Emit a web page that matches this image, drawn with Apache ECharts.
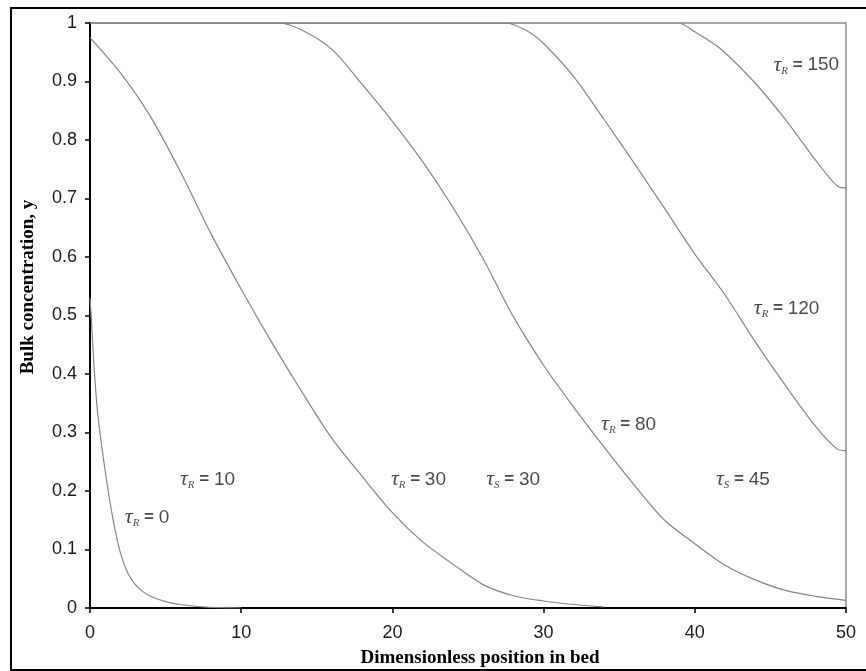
<!DOCTYPE html>
<html>
<head>
<meta charset="utf-8">
<script src="https://cdn.jsdelivr.net/npm/echarts@6/dist/echarts.min.js"></script>
<style>
  html, body { margin: 0; padding: 0; background: #fff; }
  #breakthrough { width: 866px; height: 671px; }
</style>
</head>
<body>
<div id="breakthrough"></div>
<script>
// curve values (position in bed, bulk concentration)
var pos0 = [0, 0.1, 0.25, 0.5, 1, 1.5, 2, 2.5, 3, 3.5, 4, 5, 6, 7, 8, 10];
var conc0 = [0.53, 0.49, 0.42, 0.335, 0.235, 0.155, 0.095, 0.06, 0.04, 0.028, 0.02, 0.011, 0.006, 0.003, 0.001, 0];

var pos1 = [0, 2, 4, 6, 8, 10, 12, 14, 16, 18, 20, 22, 24, 26, 28, 30, 32, 34];
var conc1 = [0.975, 0.915, 0.84, 0.745, 0.64, 0.545, 0.455, 0.37, 0.29, 0.225, 0.163, 0.113, 0.075, 0.04, 0.021, 0.012, 0.006, 0.002];

var pos2 = [0, 12.5, 14, 16, 18, 20, 22, 24, 26, 28, 30, 32, 34, 36, 38, 40, 42, 44, 46, 48, 50];
var conc2 = [1, 1, 0.988, 0.955, 0.895, 0.832, 0.763, 0.685, 0.597, 0.498, 0.415, 0.343, 0.275, 0.21, 0.15, 0.11, 0.073, 0.048, 0.03, 0.02, 0.013];

var pos3 = [0, 27.5, 29, 30, 32, 34, 36, 38, 40, 42, 44, 46, 48, 49.4, 50];
var conc3 = [1, 1, 0.985, 0.965, 0.908, 0.835, 0.76, 0.683, 0.605, 0.535, 0.455, 0.38, 0.31, 0.272, 0.269];

var pos4 = [0, 38.9, 40, 41.7, 44, 46, 47, 48, 49.5, 50];
var conc4 = [1, 1, 0.985, 0.956, 0.897, 0.835, 0.8, 0.765, 0.72, 0.718];

// curve annotations
var labelX = [2.3, 5.95, 19.9, 26.2, 33.8, 41.4, 43.9, 45.2];
var labelY = [0.155, 0.22, 0.22, 0.22, 0.314, 0.22, 0.512, 0.928];
var labelSub = ['R', 'R', 'R', 'S', 'R', 'S', 'R', 'R'];
var labelVal = ['0', '10', '30', '30', '80', '45', '120', '150'];

var xTicks = [0, 10, 20, 30, 40, 50];

function pairs(xs, ys) {
  return xs.map(function(x, i) { return [x, ys[i]]; });
}

var chart = echarts.init(document.getElementById('breakthrough'));

var curves = [pairs(pos0, conc0), pairs(pos1, conc1), pairs(pos2, conc2), pairs(pos3, conc3), pairs(pos4, conc4)];
var series = curves.map(function(d) {
  return {
    type: 'line',
    data: d,
    smooth: 0.3,
    symbol: 'none',
    silent: true,
    lineStyle: { color: '#858585', width: 1.2 },
    z: 3
  };
});

series.push({
  type: 'scatter',
  symbolSize: 0,
  silent: true,
  data: labelX.map(function(x, i) { return [x, labelY[i], labelSub[i], labelVal[i]]; }),
  label: {
    show: true,
    position: 'right',
    distance: 0,
    formatter: function(p) {
      return '{t|τ}{s|' + p.value[2] + '}{e| = }{n|' + p.value[3] + '}';
    },
    rich: {
      t: { fontFamily: 'Liberation Serif', fontStyle: 'italic', fontSize: 22, color: '#1a1a1a' },
      s: { fontFamily: 'Liberation Serif', fontStyle: 'italic', fontSize: 11, color: '#1a1a1a', verticalAlign: 'bottom' },
      e: { fontFamily: 'Liberation Sans', fontWeight: 'bold', fontSize: 17, color: '#1a1a1a' },
      n: { fontFamily: 'Liberation Sans Narrow, Liberation Sans, sans-serif', fontSize: 19, color: '#1a1a1a' }
    }
  }
});

var option = {
  animation: false,
  backgroundColor: '#fff',
  grid: {
    left: 90,
    right: 20,
    top: 23,
    bottom: 63,
    show: true,
    borderColor: '#8c8c8c',
    borderWidth: 1.5
  },
  xAxis: {
    type: 'value',
    min: xTicks[0],
    max: xTicks[xTicks.length - 1],
    interval: 10,
    splitLine: { show: false },
    axisLine: { show: true, onZero: false, lineStyle: { color: '#000', width: 2 } },
    axisTick: { show: true, inside: false, length: 5, lineStyle: { color: '#000', width: 1.5 } },
    axisLabel: { margin: 16, color: '#1a1a1a', fontFamily: 'Liberation Sans', fontSize: 18 }
  },
  yAxis: {
    type: 'value',
    min: 0,
    max: 1,
    interval: 0.1,
    splitLine: { show: false },
    axisLine: { show: true, onZero: false, lineStyle: { color: '#000', width: 2 } },
    axisTick: { show: true, inside: false, length: 5, lineStyle: { color: '#000', width: 1.5 } },
    axisLabel: { margin: 13, color: '#1a1a1a', fontFamily: 'Liberation Sans', fontSize: 18 }
  },
  graphic: [{
    type: 'rect',
    silent: true,
    shape: { x: 11, y: 8, width: 900, height: 662 },
    style: { fill: 'none', stroke: '#000', lineWidth: 2 }
  }, {
    type: 'text',
    silent: true,
    x: 28,
    y: 287,
    rotation: Math.PI / 2,
    style: {
      text: 'Bulk concentration, y',
      font: 'bold 19px "Liberation Serif"',
      fill: '#000',
      align: 'center',
      verticalAlign: 'middle'
    }
  }, {
    type: 'text',
    silent: true,
    x: 480,
    y: 658,
    style: {
      text: 'Dimensionless position in bed',
      font: 'bold 19px "Liberation Serif"',
      fill: '#000',
      align: 'center',
      verticalAlign: 'middle'
    }
  }],
  series: series
};

chart.setOption(option);
</script>
</body>
</html>
